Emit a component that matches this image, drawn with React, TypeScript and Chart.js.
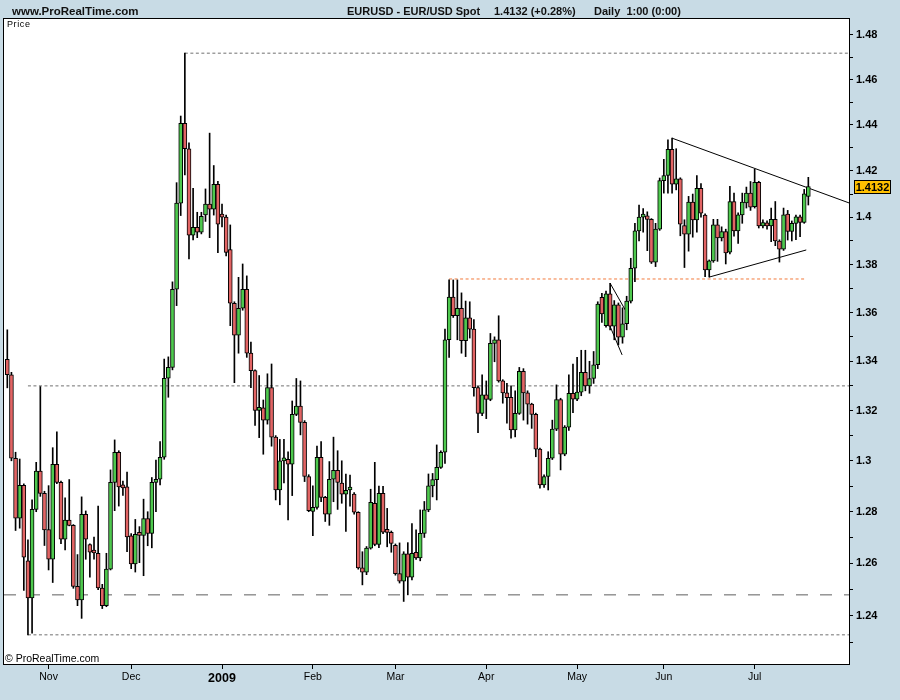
import React, { useEffect, useRef } from "react";
import { Chart, registerables } from "chart.js";
Chart.register(...registerables);

// ---- Daily EUR/USD candles, Oct 20 2008 .. Jul 20 2009 (weekdays, Dec 25 absent) ----
const opens = [
  1.3408, 1.3345, 1.3010, 1.2775, 1.2903, 1.2610, 1.2468, 1.2809, 1.2959, 1.2872,
  1.2731, 1.2616, 1.2986, 1.2915, 1.2693, 1.2767, 1.2747, 1.2512, 1.2461, 1.2790,
  1.2673, 1.2643, 1.2639, 1.2506, 1.2439, 1.2578, 1.2915, 1.3034, 1.2897, 1.2897,
  1.2706, 1.2598, 1.2712, 1.2708, 1.2773, 1.2716, 1.2915, 1.2927, 1.3014, 1.3331,
  1.3375, 1.3697, 1.4061, 1.4407, 1.4296, 1.3925, 1.3958, 1.3937, 1.4011, 1.4057,
  1.4035, 1.4142, 1.4005, 1.4001, 1.3864, 1.3639, 1.3507, 1.3618, 1.3697, 1.3433,
  1.3362, 1.3201, 1.3211, 1.3162, 1.3293, 1.3094, 1.2885, 1.3000, 1.3006, 1.2987,
  1.3185, 1.3218, 1.3153, 1.2938, 1.2801, 1.2817, 1.3014, 1.2856, 1.2790, 1.2927,
  1.2962, 1.2912, 1.2869, 1.2885, 1.2869, 1.2798, 1.2583, 1.2567, 1.2659, 1.2833,
  1.2673, 1.2872, 1.2721, 1.2720, 1.2670, 1.2561, 1.2532, 1.2637, 1.2547, 1.2643,
  1.2621, 1.2716, 1.2807, 1.2901, 1.2926, 1.2974, 1.3034, 1.3488, 1.3665, 1.3587,
  1.3618, 1.3484, 1.3578, 1.3532, 1.3293, 1.3189, 1.3264, 1.3245, 1.3473, 1.3488,
  1.3320, 1.3272, 1.3254, 1.3123, 1.3189, 1.3359, 1.3272, 1.3226, 1.3185, 1.3046,
  1.2905, 1.2938, 1.3010, 1.3126, 1.3245, 1.3026, 1.3134, 1.3270, 1.3246, 1.3275,
  1.3355, 1.3300, 1.3330, 1.3386, 1.3664, 1.3546, 1.3678, 1.3544, 1.3632, 1.3499,
  1.3554, 1.3648, 1.3785, 1.3943, 1.4001, 1.4007, 1.3992, 1.3811, 1.3950, 1.4158,
  1.4180, 1.4293, 1.4143, 1.4165, 1.3965, 1.3929, 1.4066, 1.3989, 1.4125, 1.4010,
  1.3778, 1.3816, 1.3968, 1.3913, 1.3940, 1.3853, 1.4068, 1.3943, 1.4011, 1.4062,
  1.4104, 1.4046, 1.4150, 1.3964, 1.3975, 1.3964, 1.3992, 1.3900, 1.3865, 1.4014,
  1.3940, 1.3975, 1.4003, 1.3979, 1.4090,
];
const highs = [
  1.3529, 1.3355, 1.3034, 1.3007, 1.2909, 1.2691, 1.2846, 1.2994, 1.3297, 1.2880,
  1.2902, 1.3052, 1.3115, 1.2920, 1.2854, 1.2926, 1.2750, 1.2634, 1.2858, 1.2803,
  1.2675, 1.2702, 1.2822, 1.2520, 1.2639, 1.2964, 1.3083, 1.3040, 1.2920, 1.2955,
  1.2715, 1.2770, 1.2742, 1.2849, 1.2800, 1.2934, 1.3003, 1.3076, 1.3409, 1.3418,
  1.3728, 1.4149, 1.4439, 1.4718, 1.4322, 1.4125, 1.4022, 1.4022, 1.4122, 1.4364,
  1.4223, 1.4155, 1.4057, 1.4010, 1.3968, 1.3645, 1.3747, 1.3803, 1.3753, 1.3479,
  1.3365, 1.3342, 1.3243, 1.3349, 1.3389, 1.3100, 1.3085, 1.3085, 1.3036, 1.3239,
  1.3330, 1.3320, 1.3160, 1.2945, 1.2901, 1.3058, 1.3076, 1.2860, 1.2997, 1.3094,
  1.3040, 1.3000, 1.2948, 1.2944, 1.2875, 1.2800, 1.2645, 1.2665, 1.2888, 1.2994,
  1.2900, 1.2899, 1.2813, 1.2725, 1.2675, 1.2679, 1.2645, 1.2680, 1.2754, 1.2730,
  1.2807, 1.2840, 1.2948, 1.2950, 1.3063, 1.3040, 1.3532, 1.3736, 1.3736, 1.3736,
  1.3682, 1.3648, 1.3645, 1.3571, 1.3300, 1.3345, 1.3320, 1.3514, 1.3500, 1.3587,
  1.3325, 1.3310, 1.3300, 1.3280, 1.3375, 1.3370, 1.3280, 1.3230, 1.3190, 1.3050,
  1.2945, 1.3036, 1.3162, 1.3304, 1.3250, 1.3140, 1.3345, 1.3389, 1.3416, 1.3445,
  1.3445, 1.3400, 1.3440, 1.3645, 1.3680, 1.3690, 1.3722, 1.3650, 1.3640, 1.3620,
  1.3668, 1.3827, 1.3975, 1.4053, 1.4038, 1.4024, 1.3995, 1.3975, 1.4169, 1.4250,
  1.4335, 1.4342, 1.4296, 1.4170, 1.3990, 1.4090, 1.4100, 1.4180, 1.4145, 1.4015,
  1.3820, 1.3992, 1.3992, 1.3960, 1.3950, 1.4133, 1.4104, 1.4020, 1.4104, 1.4130,
  1.4154, 1.4207, 1.4155, 1.3990, 1.3985, 1.4040, 1.4068, 1.3905, 1.4040, 1.4030,
  1.3985, 1.4010, 1.4010, 1.4120, 1.4172,
];
const lows = [
  1.3292, 1.3000, 1.2727, 1.2736, 1.2497, 1.2329, 1.2335, 1.2800, 1.2860, 1.2669,
  1.2575, 1.2527, 1.2910, 1.2676, 1.2652, 1.2745, 1.2505, 1.2439, 1.2391, 1.2616,
  1.2547, 1.2616, 1.2500, 1.2428, 1.2435, 1.2575, 1.2804, 1.2822, 1.2864, 1.2645,
  1.2580, 1.2567, 1.2603, 1.2553, 1.2668, 1.2660, 1.2800, 1.2905, 1.3006, 1.3254,
  1.3365, 1.3629, 1.4008, 1.4182, 1.3824, 1.3904, 1.3914, 1.3930, 1.3983, 1.3914,
  1.4010, 1.3851, 1.3960, 1.3837, 1.3546, 1.3313, 1.3433, 1.3610, 1.3416, 1.3293,
  1.3141, 1.3092, 1.3026, 1.3146, 1.3058, 1.2846, 1.2827, 1.2913, 1.2768, 1.2863,
  1.3180, 1.3103, 1.2918, 1.2800, 1.2707, 1.2810, 1.2839, 1.2762, 1.2747, 1.2839,
  1.2809, 1.2833, 1.2723, 1.2822, 1.2790, 1.2578, 1.2518, 1.2557, 1.2655, 1.2668,
  1.2661, 1.2715, 1.2664, 1.2643, 1.2555, 1.2525, 1.2455, 1.2480, 1.2537, 1.2615,
  1.2610, 1.2700, 1.2800, 1.2858, 1.2846, 1.2970, 1.2990, 1.3416, 1.3580, 1.3488,
  1.3433, 1.3419, 1.3495, 1.3258, 1.3112, 1.3180, 1.3168, 1.3240, 1.3398, 1.3315,
  1.3230, 1.3150, 1.3090, 1.3095, 1.3185, 1.3162, 1.3146, 1.3129, 1.3016, 1.2892,
  1.2895, 1.2885, 1.3005, 1.3120, 1.2964, 1.3020, 1.3121, 1.3192, 1.3240, 1.3260,
  1.3280, 1.3270, 1.3310, 1.3370, 1.3559, 1.3540, 1.3529, 1.3488, 1.3467, 1.3474,
  1.3529, 1.3640, 1.3729, 1.3900, 1.3937, 1.3859, 1.3805, 1.3792, 1.3945, 1.4104,
  1.4104, 1.4104, 1.4118, 1.3922, 1.3788, 1.3857, 1.3916, 1.3937, 1.4001, 1.3750,
  1.3748, 1.3810, 1.3814, 1.3900, 1.3803, 1.3845, 1.3920, 1.3890, 1.3975, 1.4040,
  1.4030, 1.4040, 1.3955, 1.3955, 1.3950, 1.3897, 1.3880, 1.3811, 1.3860, 1.3904,
  1.3900, 1.3905, 1.3918, 1.3975, 1.4053,
];
const closes = [
  1.3345, 1.3010, 1.2775, 1.2903, 1.2624, 1.2468, 1.2809, 1.2959, 1.2872, 1.2729,
  1.2616, 1.2986, 1.2915, 1.2693, 1.2767, 1.2747, 1.2512, 1.2461, 1.2790, 1.2693,
  1.2643, 1.2640, 1.2506, 1.2439, 1.2578, 1.2915, 1.3034, 1.2897, 1.2893, 1.2702,
  1.2598, 1.2712, 1.2708, 1.2773, 1.2716, 1.2915, 1.2927, 1.3014, 1.3331, 1.3375,
  1.3697, 1.4061, 1.4407, 1.4296, 1.3925, 1.3958, 1.3937, 1.4005, 1.4057, 1.4035,
  1.4142, 1.3971, 1.4001, 1.3852, 1.3639, 1.3507, 1.3618, 1.3697, 1.3433, 1.3362,
  1.3201, 1.3211, 1.3162, 1.3293, 1.3094, 1.2885, 1.3000, 1.3004, 1.2987, 1.3185,
  1.3218, 1.3153, 1.2938, 1.2804, 1.2817, 1.3014, 1.2856, 1.2790, 1.2927, 1.2962,
  1.2915, 1.2869, 1.2884, 1.2888, 1.2798, 1.2583, 1.2567, 1.2659, 1.2837, 1.2673,
  1.2872, 1.2721, 1.2720, 1.2677, 1.2561, 1.2532, 1.2637, 1.2547, 1.2639, 1.2621,
  1.2716, 1.2807, 1.2901, 1.2926, 1.2974, 1.3034, 1.3488, 1.3665, 1.3587, 1.3618,
  1.3484, 1.3578, 1.3532, 1.3293, 1.3189, 1.3264, 1.3245, 1.3473, 1.3488, 1.3320,
  1.3272, 1.3252, 1.3123, 1.3189, 1.3359, 1.3272, 1.3226, 1.3185, 1.3046, 1.2905,
  1.2938, 1.3010, 1.3126, 1.3245, 1.3026, 1.3134, 1.3270, 1.3246, 1.3275, 1.3355,
  1.3300, 1.3330, 1.3386, 1.3635, 1.3595, 1.3678, 1.3544, 1.3632, 1.3499, 1.3554,
  1.3648, 1.3785, 1.3943, 1.4001, 1.4007, 1.3992, 1.3811, 1.3950, 1.4158, 1.4180,
  1.4293, 1.4143, 1.4165, 1.3971, 1.3929, 1.4066, 1.3989, 1.4125, 1.4018, 1.3778,
  1.3816, 1.3968, 1.3913, 1.3940, 1.3849, 1.4068, 1.3943, 1.4011, 1.4066, 1.4104,
  1.4044, 1.4150, 1.3964, 1.3978, 1.3964, 1.3992, 1.3900, 1.3865, 1.4011, 1.3940,
  1.3975, 1.4003, 1.3979, 1.4101, 1.4132,
];

// month start positions (candle index) and their labels
const monthTickIndex = [10, 30, 52, 74, 94, 116, 138, 159, 181];
const monthTickLabels = ["Nov", "Dec", "2009", "Feb", "Mar", "Apr", "May", "Jun", "Jul"];

// price axis ticks (log scale)
const priceTicks = [
  1.23, 1.24, 1.25, 1.26, 1.27, 1.28, 1.29, 1.3, 1.31, 1.32, 1.33, 1.34, 1.35,
  1.36, 1.37, 1.38, 1.39, 1.4, 1.41, 1.42, 1.43, 1.44, 1.45, 1.46, 1.47, 1.48,
];
const priceLabelTicks = [1.24, 1.26, 1.28, 1.3, 1.32, 1.34, 1.36, 1.38, 1.4, 1.42, 1.44, 1.46, 1.48];

// horizontal drawn levels: [price, startIndex, endIndex]
const levelHigh = [1.4718, 43, 203.85];
const level133 = [1.33, 5, 203.85];
const levelLow = [1.2329, 5, 203.85];
const levelDashed = [1.248, -0.8, 203.85];
const levelOrange = [1.374, 107, 193.4];

// trend lines: [[index, price], [index, price]]
const trendUpper = [[161, 1.4342], [203.85, 1.4062]];
const trendLower = [[170, 1.3748], [193.5, 1.3862]];
const wedgeUpper = [[146, 1.3722], [150.1, 1.3598]];
const wedgeLower = [[144.8, 1.3591], [148.9, 1.3426]];

const X_MIN = -0.8;
const X_MAX = 203.85;
const Y_MIN = 1.222;
const Y_MAX = 1.4872;

const FONT = '"Liberation Sans", Arial, Helvetica, sans-serif';
const UP = "#4ec94e";
const DOWN = "#e26464";
const BG = "#c8dbe5";

export default function App() {
  const ref = useRef<HTMLCanvasElement>(null);

  useEffect(() => {
    document.body.style.margin = "0";
    const canvas = ref.current!;
    const idx = closes.map((_, i) => i);

    const hLine = (lv: number[], color: string, dash: number[]) => ({
      type: "line" as const,
      data: [{ x: lv[1], y: lv[0] }, { x: lv[2], y: lv[0] }],
      borderColor: color,
      borderWidth: 1,
      borderDash: dash,
      pointRadius: 0,
      fill: false,
      tension: 0,
      order: 10,
    });
    const tLine = (pts: number[][]) => ({
      type: "line" as const,
      data: pts.map((p) => ({ x: p[0], y: p[1] })),
      borderColor: "#000",
      borderWidth: 1,
      pointRadius: 0,
      fill: false,
      tension: 0,
      order: 10,
    });

    const deco = {
      id: "deco",
      beforeDraw(chart: any) {
        const { ctx, chartArea: a, width, height } = chart;
        ctx.save();
        ctx.fillStyle = BG;
        ctx.fillRect(0, 0, width, height);
        ctx.fillStyle = "#fff";
        ctx.fillRect(a.left, a.top, a.right - a.left, a.bottom - a.top);
        ctx.restore();
      },
      afterDraw(chart: any) {
        const { ctx, chartArea: a } = chart;
        ctx.save();
        ctx.strokeStyle = "#000";
        ctx.lineWidth = 1;
        ctx.strokeRect(a.left - 0.5, a.top - 0.5, a.right - a.left + 1, a.bottom - a.top + 1);

        // header
        ctx.fillStyle = "#111";
        ctx.textBaseline = "alphabetic";
        ctx.textAlign = "left";
        ctx.font = `bold 11.5px ${FONT}`;
        ctx.fillText("www.ProRealTime.com", 12, 15);
        ctx.font = `bold 11px ${FONT}`;
        ctx.fillText("EURUSD - EUR/USD Spot", 347, 15);
        ctx.fillText("1.4132 (+0.28%)", 494, 15);
        ctx.fillText("Daily  1:00 (0:00)", 594, 15);

        // inner labels
        ctx.fillStyle = "#000";
        ctx.font = `9px ${FONT}`;
        (ctx as any).letterSpacing = "0.6px";
        ctx.fillText("Price", 7, 27);
        (ctx as any).letterSpacing = "0px";
        ctx.font = `10.5px ${FONT}`;
        ctx.fillText("\u00A9 ProRealTime.com", 5, 662);

        // last price tag
        const y = Math.round(chart.scales.y.getPixelForValue(closes[closes.length - 1]));
        ctx.fillStyle = "#ffc000";
        ctx.fillRect(854, y - 7, 37, 14);
        ctx.strokeStyle = "#000";
        ctx.strokeRect(854.5, y - 6.5, 36, 13);
        ctx.fillStyle = "#000";
        ctx.font = `bold 11px ${FONT}`;
        ctx.textAlign = "center";
        ctx.textBaseline = "middle";
        ctx.fillText("1.4132", 872.5, y + 0.5);
        ctx.restore();
      },
    };

    const chart = new Chart(canvas, {
      type: "bar",
      data: {
        datasets: [
          hLine(levelHigh, "#707070", [3, 2.5]),
          hLine(level133, "#707070", [3, 2.5]),
          hLine(levelLow, "#707070", [3, 2.5]),
          hLine(levelDashed, "#606060", [12, 12]),
          hLine(levelOrange, "#f27a3c", [3, 2.5]),
          tLine(trendUpper),
          tLine(trendLower),
          tLine(wedgeUpper),
          tLine(wedgeLower),
          {
            type: "bar",
            data: idx.map((i) => ({ x: i, y: [lows[i], highs[i]] })),
            backgroundColor: "#000",
            borderWidth: 0,
            barThickness: 1,
            grouped: false,
            order: 5,
          } as any,
          {
            type: "bar",
            data: idx.map((i) => ({ x: i, y: [opens[i], closes[i]] })),
            backgroundColor: idx.map((i) => (closes[i] >= opens[i] ? UP : DOWN)),
            borderColor: "#000",
            borderWidth: 1,
            borderSkipped: false,
            barThickness: 4,
            minBarLength: 3,
            grouped: false,
            order: 1,
          } as any,
        ] as any,
      },
      options: {
        responsive: false,
        animation: false,
        events: [],
        layout: { padding: { left: 4, top: 19, right: 0, bottom: 0 } },
        plugins: { legend: { display: false }, tooltip: { enabled: false } },
        scales: {
          x: {
            type: "linear",
            position: "bottom",
            min: X_MIN,
            max: X_MAX,
            offset: false,
            bounds: "data",
            afterBuildTicks: (s: any) => {
              s.ticks = monthTickIndex.map((v) => ({ value: v }));
            },
            afterFit: (s: any) => {
              s.height = 36;
            },
            grid: { drawOnChartArea: false, drawTicks: true, tickLength: 5, color: "#000", offset: false },
            border: { display: false },
            ticks: {
              autoSkip: false,
              maxRotation: 0,
              padding: 2,
              color: "#000",
              callback: (v: any) => {
                const k = monthTickIndex.indexOf(v);
                return k >= 0 ? monthTickLabels[k] : "";
              },
              font: (c: any) => {
                const k = c.tick ? monthTickIndex.indexOf(c.tick.value) : -1;
                return monthTickLabels[k] === "2009"
                  ? { family: FONT, size: 12.5, weight: "bold" }
                  : { family: FONT, size: 10.5, weight: "normal" };
              },
            },
          } as any,
          y: {
            type: "logarithmic",
            position: "right",
            min: Y_MIN,
            max: Y_MAX,
            bounds: "data",
            beginAtZero: false,
            afterBuildTicks: (s: any) => {
              s.ticks = priceTicks.map((v) => ({ value: v }));
            },
            afterFit: (s: any) => {
              s.width = 51;
            },
            grid: { drawOnChartArea: false, drawTicks: true, tickLength: 4, color: "#000" },
            border: { display: false },
            ticks: {
              autoSkip: false,
              padding: 3,
              color: "#000",
              font: { family: FONT, size: 11, weight: "bold" },
              callback: (v: any) => {
                const r = Math.round(Number(v) * 100) / 100;
                return priceLabelTicks.includes(r) ? String(r) : "";
              },
            },
          } as any,
        },
      },
      plugins: [deco],
    });
    return () => chart.destroy();
  }, []);

  return (
    <div style={{ position: "absolute", left: 0, top: 0, width: 900, height: 700, background: BG }}>
      <canvas ref={ref} width={900} height={700} />
    </div>
  );
}
